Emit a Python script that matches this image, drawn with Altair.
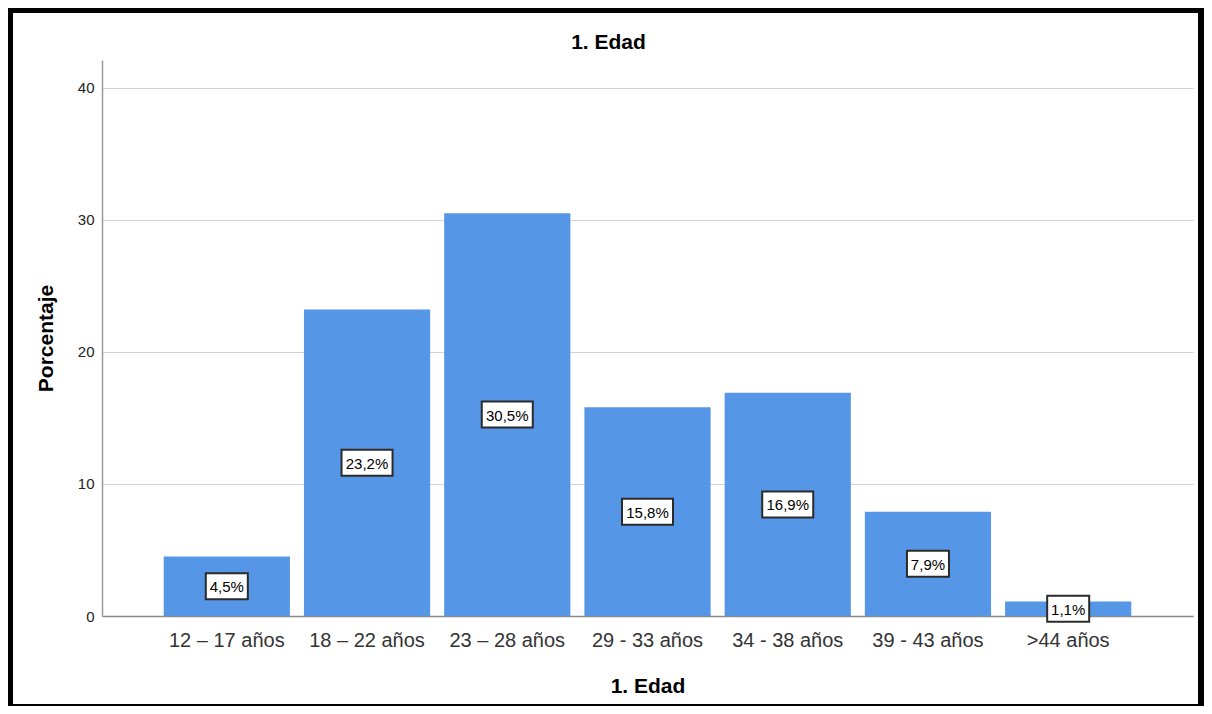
import altair as alt
import pandas as pd

categories = ["12 – 17 años", "18 – 22 años", "23 – 28 años", "29 - 33 años",
              "34 - 38 años", "39 - 43 años", ">44 años"]
percentages = [4.5, 23.2, 30.5, 15.8, 16.9, 7.9, 1.1]
labels = [f"{v:.1f}".replace(".", ",") + "%" for v in percentages]
y_ticks = [0, 10, 20, 30, 40]
chart_title = "1. Edad"

df = pd.DataFrame({"cat": categories, "value": percentages, "label": labels})

FONT = "Liberation Sans"
W, H = 1091, 556

x_enc = alt.X("cat:N", sort=categories,
              scale=alt.Scale(paddingInner=0.1, paddingOuter=0.44),
              axis=alt.Axis(title="1. Edad", labelAngle=0, labelFontSize=20,
                            labelColor="#333333", labelFont=FONT, ticks=False,
                            tickSize=0, labelPadding=14, domainColor="#8a8a8a",
                            domainWidth=1.5, titleFontSize=21, titleFont=FONT,
                            titleFontWeight="bold", titleColor="black",
                            titleBaseline="alphabetic", titleY=76, grid=False))
y_scale = alt.Scale(domain=[0, 42.1], nice=False)

base = alt.Chart(df)

bars = base.mark_bar(color="#5596e6").encode(
    x=x_enc,
    y=alt.Y("value:Q", scale=y_scale,
            axis=alt.Axis(title="Porcentaje", values=y_ticks, labelFontSize=15,
                          labelColor="#222222", labelFont=FONT, ticks=False,
                          tickSize=0, labelPadding=8, domainColor="#9a9a9a",
                          domainWidth=1.5, gridColor="#d4d4d4", gridWidth=1,
                          titleFontSize=21, titleFont=FONT, titleFontWeight="bold",
                          titleColor="black", titleBaseline="alphabetic",
                          titleAngle=-90, titleX=-50, titleY=H / 2,
                          titleAlign="center"))
)

boxes = base.transform_calculate(
    mid="datum.value / 2",
    path="length(datum.label) > 4 ? 'M-0.51,-0.26L0.51,-0.26L0.51,0.26L-0.51,0.26Z' : 'M-0.42,-0.26L0.42,-0.26L0.42,0.26L-0.42,0.26Z'"
).mark_point(filled=True, fill="white", stroke="#2b2b2b", strokeWidth=2,
             opacity=1, size=10000).encode(
    x=alt.X("cat:N", sort=categories),
    y=alt.Y("mid:Q", scale=y_scale),
    shape=alt.Shape("path:N", scale=None),
)

texts = base.transform_calculate(mid="datum.value / 2").mark_text(
    fontSize=15, font=FONT, color="black", baseline="middle", align="center", dy=1
).encode(
    x=alt.X("cat:N", sort=categories),
    y=alt.Y("mid:Q", scale=y_scale),
    text="label:N",
)

title_mark = alt.Chart(alt.Data(values=[{"t": chart_title}])).mark_text(
    fontSize=21, font=FONT, fontWeight="bold", color="black",
    align="center", baseline="alphabetic"
).encode(
    x=alt.value(506.5), y=alt.value(-11), text="t:N"
)

frame = alt.Chart(alt.Data(values=[{}])).mark_rect(
    filled=False, stroke="black", strokeWidth=6
).encode(
    x=alt.value(-92), x2=alt.value(1099), y=alt.value(-50), y2=alt.value(647)
)

chart = alt.layer(bars, boxes, texts, title_mark, frame).properties(
    width=W, height=H,
    autosize=alt.AutoSizeParams(type="none"),
    padding={"left": 94, "top": 52, "right": 11, "bottom": 90},
).configure(background="white").configure_view(stroke=None)

chart.save("out.html", embed_options={"renderer": "svg", "actions": False})
